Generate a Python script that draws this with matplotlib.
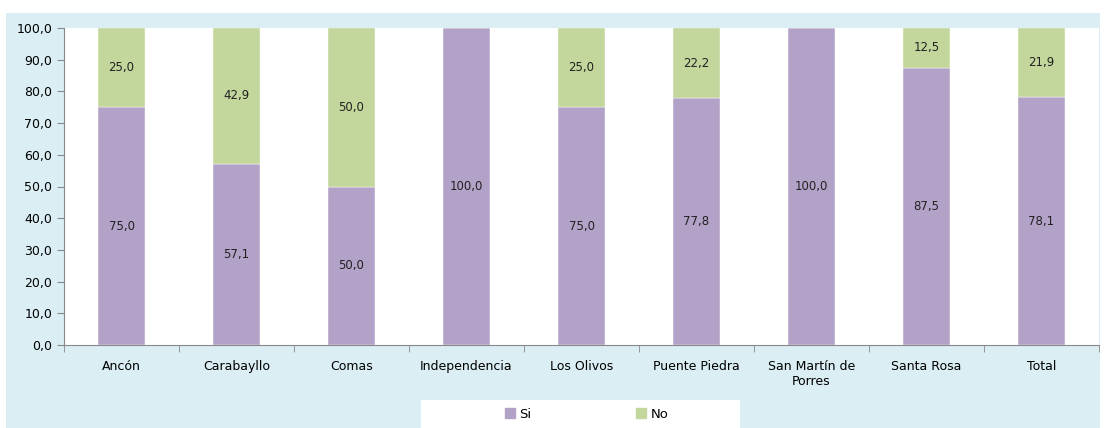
import matplotlib.pyplot as plt
import matplotlib.patches as mpatches
import numpy as np

categories = ["Ancón", "Carabayllo", "Comas", "Independencia", "Los Olivos",
              "Puente Piedra", "San Martín de\nPorres", "Santa Rosa", "Total"]
si = [75.0, 57.1, 50.0, 100.0, 75.0, 77.8, 100.0, 87.5, 78.1]
no = [25.0, 42.9, 50.0, 0.0, 25.0, 22.2, 0.0, 12.5, 21.9]
yticks = np.arange(0, 101, 10)

c_si = "#B3A2C7"
c_no = "#C3D69B"
bg = "#DAEEF3"

plt.rcParams["font.family"] = ["DejaVu Sans"]

fig = plt.figure(figsize=(11.04, 4.28), dpi=100)
fig.patch.set_facecolor("white")
fig.patches.append(mpatches.Rectangle((6 / 1104, 0), 1094 / 1104, 415 / 428,
                                      transform=fig.transFigure, facecolor=bg,
                                      edgecolor="none", zorder=-10))

ax = fig.add_axes([64 / 1104, 1 - 345 / 428, 1035 / 1104, 317 / 428])
x = np.arange(len(categories))
w = 0.41
ax.bar(x, si, w, color=c_si, edgecolor="white", linewidth=0.3)
ax.bar(x, no, w, bottom=si, color=c_no, edgecolor="white", linewidth=0.3)

for i in range(len(categories)):
    ax.text(x[i], si[i] / 2, f"{si[i]:.1f}".replace(".", ","),
            ha="center", va="center", fontsize=8.5, color="#222222")
    if no[i] > 0:
        ax.text(x[i], si[i] + no[i] / 2, f"{no[i]:.1f}".replace(".", ","),
                ha="center", va="center", fontsize=8.5, color="#222222")

ax.set_xlim(-0.5, len(categories) - 0.5)
ax.set_ylim(0, 100)
ax.set_yticks(yticks)
ax.set_yticklabels([f"{v:.1f}".replace(".", ",") for v in yticks], fontsize=9)
ax.set_xticks(x)
ax.set_xticklabels(categories, fontsize=9)
ax.set_xticks(np.arange(-0.5, len(categories), 1), minor=True)
ax.tick_params(axis="x", which="major", length=0, pad=11)
ax.tick_params(axis="x", which="minor", length=5, color="#888888")
ax.tick_params(axis="y", length=5, color="#888888")
for s in ["top", "right"]:
    ax.spines[s].set_visible(False)
for s in ["left", "bottom"]:
    ax.spines[s].set_color("#888888")

fig.patches.append(mpatches.Rectangle((421 / 1104, 0), 319 / 1104, 28 / 428,
                                      transform=fig.transFigure, facecolor="white",
                                      edgecolor="none", zorder=-5))

handles = [mpatches.Patch(color=c_si, label="Si"), mpatches.Patch(color=c_no, label="No")]
leg = fig.legend(handles=handles, loc="center", ncol=2,
                 bbox_to_anchor=(427 / 1104, 0, 319 / 1104, 28 / 428),
                 frameon=False, fontsize=9.5, handlelength=0.75,
                 handleheight=0.75, handletextpad=0.3, columnspacing=8,
                 borderaxespad=0)

fig.savefig("out.png", dpi=100)
